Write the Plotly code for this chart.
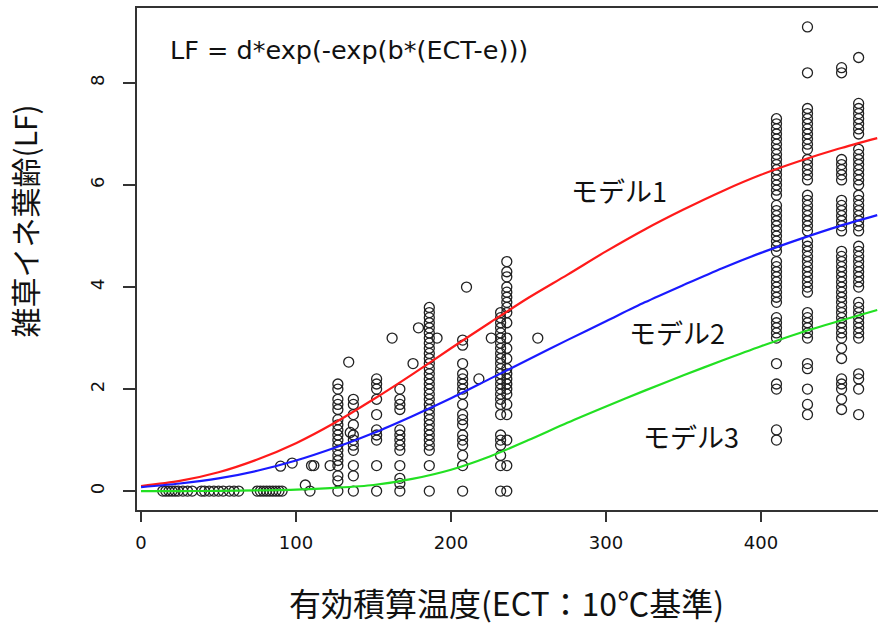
import plotly.graph_objects as go

# ---------------- data ----------------
# model curves: LF at ECT grid
curve_x = [0, 25, 50, 75, 100, 125, 150, 175, 200, 225, 250, 275, 300, 325, 350, 375, 400, 425, 450, 475]
model1_y = [0.10, 0.20, 0.37, 0.62, 0.94, 1.34, 1.80, 2.29, 2.80, 3.30, 3.79, 4.24, 4.70, 5.13, 5.52, 5.88, 6.20, 6.47, 6.71, 6.92]
model2_y = [0.08, 0.15, 0.25, 0.40, 0.60, 0.85, 1.14, 1.47, 1.82, 2.20, 2.58, 2.96, 3.33, 3.70, 4.04, 4.37, 4.67, 4.94, 5.19, 5.41]
model3_y = [0.00, 0.00, 0.005, 0.015, 0.03, 0.065, 0.12, 0.24, 0.42, 0.68, 1.00, 1.34, 1.66, 1.97, 2.27, 2.56, 2.84, 3.10, 3.33, 3.55]

# observations: rows of zero leaf age at low ECT
zero_row_x = [14, 16, 18, 20, 22, 24, 27, 30, 33, 39, 41, 44, 47, 50, 53, 57, 60, 63,
              75, 77, 79, 81, 83, 85, 87, 89, 91]
single_x = [90, 97.5, 106, 109, 110, 111.5, 122, 134, 135, 162, 175.5, 179, 191, 210, 218, 226, 256]
single_y = [0.49, 0.55, 0.12, 0.0, 0.5, 0.5, 0.5, 2.53, 1.15, 3.0, 2.5, 3.2, 3.0, 4.0, 2.2, 3.0, 3.0]

col_x = [127, 137, 152, 167, 186, 207.5, 232, 236, 410, 430, 452, 463]
col_127 = [2.1, 2.0, 1.8, 1.7, 1.6, 1.4, 1.3, 1.2, 1.1, 1.0, 0.9, 0.8, 0.7, 0.6, 0.5, 0.3, 0.2, 0.0]
col_137 = [1.8, 1.7, 1.5, 1.3, 1.1, 1.0, 0.9, 0.8, 0.5, 0.3, 0.0]
col_152 = [2.2, 2.1, 2.0, 1.8, 1.5, 1.2, 1.1, 1.0, 0.5, 0.0]
col_167 = [2.0, 1.8, 1.7, 1.6, 1.2, 1.1, 1.0, 0.9, 0.8, 0.5, 0.25, 0.15, 0.0]
col_186 = [3.6, 3.5, 3.4, 3.3, 3.2, 3.1, 3.0, 2.9, 2.8, 2.7, 2.6, 2.5, 2.4, 2.3, 2.2, 2.1, 2.0,
           1.9, 1.8, 1.7, 1.6, 1.5, 1.4, 1.3, 1.2, 1.1, 1.0, 0.9, 0.8, 0.5, 0.0]
col_207 = [2.96, 2.86, 2.5, 2.3, 2.2, 2.1, 2.0, 1.9, 1.7, 1.5, 1.4, 1.3, 1.1, 1.0, 0.9, 0.7, 0.5, 0.0]
col_232 = [3.5, 3.4, 3.3, 3.2, 3.1, 3.0, 2.9, 2.8, 2.7, 2.6, 2.5, 2.4, 2.3, 2.2, 2.1, 2.0, 1.9,
           1.8, 1.7, 1.5, 1.1, 1.0, 0.9, 0.7, 0.5, 0.0]
col_236 = [4.5, 4.3, 4.2, 4.0, 3.9, 3.8, 3.7, 3.6, 3.5, 3.3, 3.0, 2.8, 2.6, 2.4, 2.3, 2.2, 2.1,
           2.0, 1.9, 1.7, 1.5, 1.0, 0.5, 0.0]
col_410 = [7.3, 7.2, 7.1, 7.0, 6.9, 6.8, 6.7, 6.6, 6.5, 6.4, 6.3, 6.2, 6.1, 6.0, 5.9, 5.8, 5.6,
           5.5, 5.4, 5.3, 5.2, 5.1, 5.0, 4.9, 4.8, 4.7, 4.5, 4.4, 4.3, 4.2, 4.1, 4.0, 3.9, 3.8,
           3.7, 3.4, 3.3, 3.2, 3.1, 3.0, 2.5, 2.1, 2.0, 1.2, 1.0]
col_430 = [9.1, 8.2, 7.5, 7.4, 7.3, 7.2, 7.1, 7.0, 6.9, 6.8, 6.7, 6.5, 6.4, 6.3, 6.2, 6.1, 5.8,
           5.7, 5.6, 5.5, 5.4, 5.3, 5.2, 5.1, 4.9, 4.8, 4.7, 4.6, 4.5, 4.4, 4.3, 4.2, 4.1, 4.0,
           3.9, 3.5, 3.4, 3.3, 3.2, 3.1, 3.0, 2.5, 2.4, 2.0, 1.7, 1.5]
col_452 = [8.3, 8.2, 6.5, 6.4, 6.3, 6.2, 6.1, 5.7, 5.6, 5.5, 5.4, 5.3, 5.2, 5.1, 4.7, 4.6, 4.5,
           4.4, 4.3, 4.2, 4.1, 4.0, 3.9, 3.8, 3.7, 3.6, 3.5, 3.4, 3.3, 3.2, 3.1, 3.0, 2.8, 2.6,
           2.2, 2.1, 2.0, 1.8, 1.6]
col_463 = [8.5, 7.6, 7.5, 7.4, 7.3, 7.2, 7.1, 7.0, 6.7, 6.6, 6.5, 6.4, 6.3, 6.2, 6.1, 6.0, 5.8,
           5.7, 5.6, 5.5, 5.4, 5.3, 5.2, 5.1, 4.8, 4.7, 4.6, 4.5, 4.4, 4.3, 4.2, 4.1, 4.0, 3.7,
           3.6, 3.5, 3.4, 3.3, 3.2, 3.1, 3.0, 2.3, 2.2, 2.0, 1.5]
col_values = [col_127, col_137, col_152, col_167, col_186, col_207, col_232, col_236,
              col_410, col_430, col_452, col_463]

# ---------------- assemble observation points ----------------
obs_x = list(zero_row_x) + list(single_x)
obs_y = [0.0] * len(zero_row_x) + list(single_y)
for cx, ys in zip(col_x, col_values):
    obs_x += [cx] * len(ys)
    obs_y += list(ys)

fig = go.Figure()
fig.add_trace(go.Scatter(
    x=obs_x, y=obs_y, mode="markers",
    marker=dict(symbol="circle-open", size=10, color="#222222", line=dict(width=1.3)),
    hoverinfo="x+y"))

for ys, col, name in [(model1_y, "#ff1a1a", "モデル1"),
                      (model2_y, "#1a1aff", "モデル2"),
                      (model3_y, "#22e022", "モデル3")]:
    fig.add_trace(go.Scatter(x=curve_x, y=ys, mode="lines", name=name,
                             line=dict(color=col, width=2.2, shape="spline", smoothing=0.8)))

cjk = "Noto Sans CJK JP"
annotations = [
    dict(text="LF = d*exp(-exp(b*(ECT-e)))", x=134, y=8.65, xref="x", yref="y",
         xanchor="center", yanchor="middle",
         showarrow=False, font=dict(family="DejaVu Sans", size=25.5, color="#111")),
    dict(text="モデル1", x=308.4, y=5.9, xref="x", yref="y", showarrow=False,
         xanchor="center", yanchor="middle", font=dict(family=cjk, size=27, color="#111")),
    dict(text="モデル2", x=345.8, y=3.1, xref="x", yref="y", showarrow=False,
         xanchor="center", yanchor="middle", font=dict(family=cjk, size=27, color="#111")),
    dict(text="モデル3", x=354.8, y=1.08, xref="x", yref="y", showarrow=False,
         xanchor="center", yanchor="middle", font=dict(family=cjk, size=27, color="#111")),
    dict(text="有効積算温度(ECT：10℃基準)", x=0.499, y=-0.183, xref="paper", yref="paper",
         xanchor="center", yanchor="middle",
         showarrow=False, font=dict(family=cjk, size=32, color="#111")),
    dict(text="雑草イネ葉齢(LF)", x=-0.153, y=0.576, xref="paper", yref="paper",
         xanchor="center", yanchor="middle",
         textangle=-90, showarrow=False, font=dict(family=cjk, size=30, color="#111")),
]

fig.update_layout(
    width=878, height=629,
    margin=dict(l=137, r=0, t=8, b=119),
    plot_bgcolor="white", paper_bgcolor="white",
    showlegend=False,
    annotations=annotations,
    xaxis=dict(range=[-2.6, 475.5], tickvals=[0, 100, 200, 300, 400],
               ticks="outside", ticklen=10, tickwidth=1.5, tickcolor="#333",
               showline=True, linecolor="#333", linewidth=1.5, mirror=True,
               showgrid=False, zeroline=False, ticklabelstandoff=6,
               tickfont=dict(family="DejaVu Sans", size=18, color="#111")),
    yaxis=dict(range=[-0.37, 9.47], tickvals=[0, 2, 4, 6, 8], tickangle=-90,
               ticks="outside", ticklen=12, tickwidth=1.5, tickcolor="#333",
               showline=True, linecolor="#333", linewidth=1.5,
               showgrid=False, zeroline=False, ticklabelstandoff=12,
               tickfont=dict(family="DejaVu Sans", size=18, color="#111")),
)

fig.write_html("out.html")
